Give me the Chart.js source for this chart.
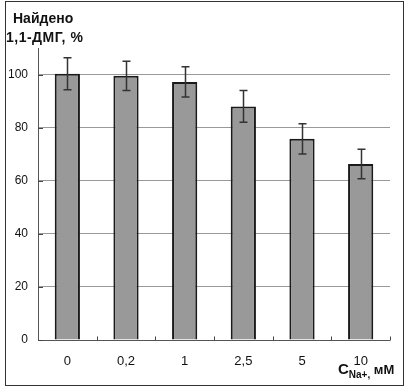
<!DOCTYPE html>
<html><head><meta charset="utf-8">
<script src="https://cdn.jsdelivr.net/npm/chart.js@4/dist/chart.umd.min.js"></script>
<style>html,body{margin:0;padding:0;background:#fff}#wrap{width:409px;height:390px}</style>
</head><body><div id="wrap"><canvas id="c" width="409" height="390"></canvas></div>
<script>
const categories = ['0', '0,2', '1', '2,5', '5', '10'];
const values = [100.3, 99.5, 97.2, 88.0, 75.8, 66.3];
const errors = [6.0, 5.5, 5.7, 6.0, 5.7, 5.6];
const yTickValues = [0, 20, 40, 60, 80, 100];
const yTitleLines = ['Найдено', '1,1-ДМГ, %'];
const xTitle = {main: 'C', sub: 'Na+,', unit: ' мМ'};

const FONT = '"Liberation Sans", Arial, sans-serif';

const decor = {
  id: 'decor',
  afterDatasetsDraw(chart) {
    const ctx = chart.ctx, x = chart.scales.x, y = chart.scales.y;
    const meta = chart.getDatasetMeta(0);
    ctx.save();
    // error bars
    ctx.strokeStyle = '#333';
    ctx.lineWidth = 1.5;
    meta.data.forEach((bar, i) => {
      const cx = Math.round(bar.x) + 0.5;
      const yt = y.getPixelForValue(values[i] + errors[i]);
      const yb = y.getPixelForValue(values[i] - errors[i]);
      ctx.beginPath();
      ctx.moveTo(cx, yt); ctx.lineTo(cx, yb);
      ctx.moveTo(cx - 4, yt); ctx.lineTo(cx + 4, yt);
      ctx.moveTo(cx - 4, yb); ctx.lineTo(cx + 4, yb);
      ctx.stroke();
    });
    // axes lines
    const ca = chart.chartArea;
    const y0 = Math.round(y.getPixelForValue(0)) + 0.5;
    ctx.strokeStyle = '#555';
    ctx.lineWidth = 1;
    ctx.beginPath();
    ctx.moveTo(Math.round(ca.left) + 0.5, ca.top);
    ctx.lineTo(Math.round(ca.left) + 0.5, y0);
    ctx.lineTo(ca.right, y0);
    ctx.stroke();
    // x tick marks (inside, at category boundaries)
    ctx.strokeStyle = '#444';
    const step = x.getPixelForValue(1) - x.getPixelForValue(0);
    for (let i = 0; i < categories.length; i++) {
      const px = Math.round(x.getPixelForValue(i) + step / 2) + 0.5;
      ctx.beginPath(); ctx.moveTo(px, y0); ctx.lineTo(px, y0 - 4); ctx.stroke();
    }
    // y tick marks inside
    yTickValues.forEach(v => {
      const py = Math.round(y.getPixelForValue(v)) + 0.5;
      ctx.beginPath(); ctx.moveTo(ca.left, py); ctx.lineTo(ca.left + 5, py); ctx.stroke();
    });
    // titles
    ctx.fillStyle = '#111';
    ctx.font = 'bold 14px ' + FONT;
    ctx.textBaseline = 'middle';
    ctx.textAlign = 'left';
    ctx.fillText(yTitleLines[0], 13, 19);
    ctx.letterSpacing = '0.5px';
    ctx.fillText(yTitleLines[1], 6, 38);
    ctx.letterSpacing = '0px';
    // x title
    ctx.textBaseline = 'alphabetic';
    ctx.font = 'bold 15px ' + FONT;
    let xx = 338, base = 374;
    ctx.fillText(xTitle.main, xx, base);
    xx += ctx.measureText(xTitle.main).width;
    ctx.font = 'bold 10px ' + FONT;
    ctx.fillText(xTitle.sub, xx, base + 4);
    xx += ctx.measureText(xTitle.sub).width;
    ctx.font = 'bold 13px ' + FONT;
    ctx.fillText(xTitle.unit, xx, base);
    // frame
    ctx.strokeStyle = '#333';
    ctx.lineWidth = 1;
    ctx.strokeRect(5.5, 1.5, 398, 384);
    ctx.restore();
  }
};

new Chart(document.getElementById('c'), {
  type: 'bar',
  data: {
    labels: categories,
    datasets: [{
      data: values,
      backgroundColor: '#999999',
      borderColor: '#1a1a1a',
      borderWidth: 2,
      barPercentage: 0.43,
      categoryPercentage: 1
    }]
  },
  options: {
    responsive: false,
    animation: false,
    layout: {padding: {left: 0, right: 19, top: 48, bottom: 0}},
    plugins: {legend: {display: false}, tooltip: {enabled: false}},
    scales: {
      x: {
        grid: {display: false, drawTicks: false},
        border: {display: false},
        ticks: {color: '#111', font: {family: FONT, size: 13}, padding: 14, maxRotation: 0},
        afterFit: s => { s.height = 50; }
      },
      y: {
        min: 0, max: 110,
        afterBuildTicks: s => { s.ticks = yTickValues.map(v => ({value: v})); },
        grid: {color: '#999', drawTicks: false, lineWidth: 1},
        border: {display: false},
        ticks: {color: '#111', font: {family: FONT, size: 12}, padding: 10},
        afterFit: s => { s.width = 38; }
      }
    }
  },
  plugins: [decor]
});
</script>
</body></html>
